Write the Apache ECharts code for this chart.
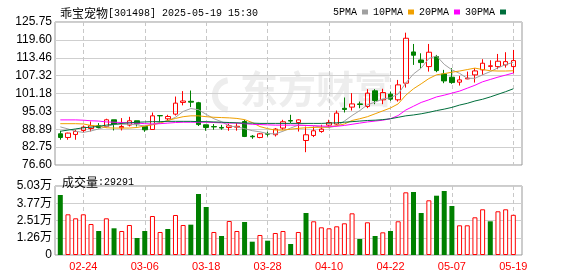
<!DOCTYPE html>
<html><head><meta charset="utf-8">
<script src="https://cdn.jsdelivr.net/npm/echarts@6/dist/echarts.min.js"></script>
<style>html,body{margin:0;padding:0;background:#fff}#c{width:578px;height:276px}</style>
</head><body><div id="c"></div>
<script>
const dates = ['02-19','02-20','02-21','02-24','02-25','02-26','02-27','02-28','03-03','03-04',
'03-05','03-06','03-07','03-10','03-11','03-12','03-13','03-14','03-17','03-18',
'03-19','03-20','03-21','03-24','03-25','03-26','03-27','03-28','03-31','04-01',
'04-02','04-03','04-07','04-08','04-09','04-10','04-11','04-14','04-15','04-16',
'04-17','04-18','04-21','04-22','04-23','04-24','04-25','04-28','04-29','04-30',
'05-06','05-07','05-08','05-09','05-12','05-13','05-14','05-15','05-16','05-19'];
const opens = [87.33,86.06,87.10,88.47,89.15,90.08,89.84,92.14,89.39,90.32,
91.80,89.84,88.81,93.60,92.48,94.09,98.10,98.50,98.00,90.42,
89.80,89.50,89.50,89.60,91.55,86.50,86.06,87.40,87.00,89.28,
91.90,91.20,85.03,86.76,88.13,90.30,90.66,96.10,96.50,97.60,
96.70,102.08,99.00,100.95,99.00,104.72,115.46,112.70,110.42,113.85,
107.90,106.78,105.07,106.20,107.57,109.30,110.50,110.42,111.00,110.42];
const closes = [86.06,87.57,88.13,89.63,90.08,89.50,92.14,90.66,89.84,91.80,
90.76,88.70,93.50,93.50,93.27,97.86,98.60,98.20,90.50,89.50,
89.70,89.30,90.08,89.90,86.40,86.30,87.33,87.20,88.95,91.45,
91.70,92.10,86.99,88.36,88.95,91.20,94.43,95.70,97.60,97.40,
101.30,98.76,101.50,99.24,104.14,120.16,114.33,111.80,115.36,109.05,
105.50,104.93,105.85,106.44,108.94,111.58,110.70,112.27,112.13,112.48];
const lows = [85.28,85.28,85.28,87.78,88.13,89.15,89.50,88.47,88.47,89.84,
89.84,88.00,88.81,91.00,91.55,93.61,97.10,96.50,90.00,88.36,
88.70,88.70,88.36,88.40,86.20,85.60,85.80,86.40,86.40,88.70,
91.00,88.10,81.00,86.20,87.67,89.28,90.42,94.64,95.30,96.10,
96.15,97.50,97.50,98.65,98.40,103.20,111.00,109.90,108.70,108.50,
104.72,104.50,103.90,106.10,104.93,107.57,109.30,109.53,110.07,108.15];
const highs = [88.36,87.70,88.70,90.18,91.55,91.00,92.50,92.14,92.72,93.16,
91.80,89.84,94.64,93.75,93.85,100.13,102.00,102.20,98.30,90.42,
90.66,90.40,90.76,91.00,92.14,86.90,87.60,88.10,89.30,92.14,
93.85,92.30,89.80,89.84,90.42,92.14,95.33,99.80,101.30,98.40,
102.66,102.66,102.80,101.85,105.85,122.08,118.20,115.00,118.20,114.43,
109.30,109.87,107.23,108.70,109.87,112.96,112.60,114.77,115.36,116.15];
const volumes = [43740,29670,26750,29670,22600,17500,26750,19460,17500,21870,
12390,17500,28430,16770,18950,29160,21870,22110,44470,34990,
16770,13850,24790,17500,24060,9700,14580,10430,16040,17500,
8020,16770,30620,24570,20190,19460,20920,23110,30380,11660,
23840,13850,16520,17500,24570,45690,45930,30620,39870,43230,
46660,35720,21650,21650,27480,33310,24570,31860,33310,29291];
const volUp = [0,1,1,1,1,0,1,0,1,1, 0,0,1,1,0,1,1,0,0,0, 1,0,1,1,0,0,1,0,1,1,
0,1,0,1,1,1,1,1,1,0, 1,0,1,0,1,1,0,0,1,0, 0,0,1,1,1,1,0,1,1,1];
const ma5 = [89.7,89.0,88.2,87.8,88.3,89.0,89.8,90.5,90.6,90.6,
90.4,90.0,90.6,91.3,91.8,93.0,95.0,96.0,95.6,94.0,
92.5,91.5,90.0,89.7,89.1,88.4,88.0,87.4,87.3,88.2,
89.3,90.3,90.2,90.1,89.6,89.5,90.0,91.7,93.6,95.3,
97.3,98.2,99.3,99.7,101.0,104.8,107.9,109.9,113.2,114.1,
111.2,109.3,108.1,106.4,106.4,107.6,108.7,110.0,111.1,111.9];
const ma10 = [90.8,90.8,90.8,90.7,90.2,90.0,89.4,89.3,89.3,89.3,
89.5,90.0,90.4,91.0,91.9,92.6,93.2,93.5,93.5,93.2,
93.0,92.9,92.8,92.6,92.2,91.2,89.8,89.1,88.6,88.6,
88.9,89.2,89.4,89.5,89.6,89.7,90.1,90.7,91.9,92.5,
93.2,94.2,95.2,96.2,97.6,100.6,102.8,104.5,106.3,107.6,
108.0,108.5,108.9,109.4,109.9,109.4,109.0,108.9,108.9,109.0];
const ma20 = [92.1,92.1,92.1,92.0,91.8,91.7,91.4,91.3,91.2,91.1,
91.0,90.8,90.7,90.8,91.0,91.2,91.3,91.3,91.3,91.3,
91.2,91.1,91.0,91.0,90.8,90.6,90.5,90.4,90.3,90.3,
90.3,90.3,90.2,90.1,90.0,89.9,89.9,90.2,90.6,91.0,
91.4,91.7,92.0,92.5,93.6,95.5,96.8,98.1,99.0,100.0,
100.6,101.3,102.0,103.0,104.0,105.2,106.0,106.8,107.5,108.2];
const ma30 = [88.2,88.6,89.0,89.4,89.6,89.9,90.3,90.6,90.9,91.1,
91.3,91.4,91.5,91.5,91.6,91.6,91.6,91.6,91.5,91.5,
91.4,91.3,91.2,91.1,91.0,91.0,90.9,90.9,90.9,90.9,
90.9,90.9,90.9,90.9,90.9,91.0,91.1,91.3,91.5,91.7,
91.9,92.0,92.2,92.5,93.0,93.5,93.8,94.2,94.7,95.3,
95.8,96.4,97.2,97.8,98.6,99.2,100.0,100.9,101.8,102.8];
const priceTickLabels = ['76.60','82.75','88.89','95.03','101.18','107.32','113.46','119.60','125.75'];
const volTickValues = [0,12575,25150,37725,50300];
const volTickLabels = ['0','1.26万','2.51万','3.77万','5.03万'];
const dateTickIdx = [3,11,19,27,35,43,51,59];
const maNames = ['5PMA','10PMA','20PMA','30PMA'];
const maColors = ['#a0a0a0','#f0a000','#ff00ff','#006e3c'];

const priceTickValues = priceTickLabels.map(Number);
const idx = dates.map((d,i)=>i);
const candleData = idx.map(i=>[i, opens[i], closes[i], lows[i], highs[i]]);
const volData = idx.map(i=>({
  value:[i, volumes[i]],
  itemStyle: volUp[i] ? {color:'#fff', borderColor:'#ff0000', borderWidth:1} : {color:'#008000'}
}));
const maData = [ma5,ma10,ma20,ma30];

const chart = echarts.init(document.getElementById('c'), null, {renderer:'canvas'});
const xCommon = {
  type:'value', min:-0.69, max:60.13,
  axisLine:{show:false},
  axisTick:{show:false, customValues: dateTickIdx},
  splitLine:{show:true, lineStyle:{color:'#c8c8c8', type:[4,3], width:1}}
};
const latinMono = 'Liberation Mono';
const richTitle = {
  a:{fontFamily:'Noto Sans CJK SC',fontSize:12,fontWeight:'normal',color:'#000',lineHeight:15},
  b:{fontFamily:latinMono,fontSize:10,fontWeight:'normal',color:'#000',lineHeight:15}
};
chart.setOption({
  animation:false,
  backgroundColor:'#fff',
  title:[
    {text:'{a|乖宝宠物}{b|[301498] 2025-05-19 15:30}', left:55, top:1,
     textStyle:{fontWeight:'normal', rich:richTitle}},
    {text:'{a|成交量}{b|:29291}', left:57, top:170,
     textStyle:{fontWeight:'normal', rich:richTitle}}
  ],
  legend:{
    data:maNames, right:67, top:2, align:'right', icon:'rect',
    itemWidth:6, itemHeight:5, itemGap:5,
    textStyle:{fontFamily:latinMono, fontSize:10, color:'#000'}
  },
  graphic:[
    {type:'text', left:240, top:70, z:0, silent:true,
     style:{text:'东方财富', font:'bold 38px "Noto Sans CJK SC"', fill:'#ededed'}},
    {type:'arc', z:0, silent:true, shape:{cx:230, cy:95, r:15, startAngle:Math.PI*0.55, endAngle:Math.PI*1.45},
     style:{stroke:'#ededed', lineWidth:6, fill:null}}
  ],
  grid:[
    {left:55, top:22, width:467, height:143, show:true, borderColor:'#999', borderWidth:1, backgroundColor:'transparent'},
    {left:55, top:186, width:467, height:69, show:true, borderColor:'#999', borderWidth:1, backgroundColor:'transparent'}
  ],
  xAxis:[
    Object.assign({gridIndex:0, axisLabel:{show:false, customValues:dateTickIdx}}, xCommon),
    Object.assign({gridIndex:1, axisLabel:{show:true, customValues:dateTickIdx,
      formatter:(v)=>dates[Math.round(v)], color:'#ff0000', fontSize:11, fontFamily:'Liberation Sans', margin:6}}, xCommon)
  ],
  yAxis:[
    {type:'value', gridIndex:0, min:priceTickValues[0], max:priceTickValues[priceTickValues.length-1],
     axisLine:{show:false}, axisTick:{show:false, customValues:priceTickValues},
     axisLabel:{customValues:priceTickValues, formatter:(v)=>priceTickLabels[priceTickValues.indexOf(v)],
       color:'#000', fontSize:12, fontFamily:'Liberation Sans', margin:3},
     splitLine:{show:true, lineStyle:{color:'#cfcfcf', width:1}}},
    {type:'value', gridIndex:1, min:0, max:volTickValues[volTickValues.length-1],
     axisLine:{show:false}, axisTick:{show:false, customValues:volTickValues},
     axisLabel:{customValues:volTickValues, formatter:(v)=>volTickLabels[volTickValues.indexOf(v)],
       color:'#000', fontSize:12, fontFamily:'Liberation Sans, Noto Sans CJK SC', margin:3},
     splitLine:{show:true, lineStyle:{color:'#cfcfcf', width:1}}}
  ],
  series:[
    {type:'candlestick', xAxisIndex:0, yAxisIndex:0, data:candleData, barWidth:5,
     itemStyle:{color:'transparent', color0:'#008000', borderColor:'#ff0000', borderColor0:'#008000', borderWidth:1}},
    ...maNames.map((n,k)=>({
      type:'line', name:n, xAxisIndex:0, yAxisIndex:0, showSymbol:false, symbol:'none',
      data: idx.map(i=>[i, maData[k][i]]), lineStyle:{color:maColors[k], width:1}, itemStyle:{color:maColors[k]}
    })),
    {type:'bar', xAxisIndex:1, yAxisIndex:1, data:volData, barWidth:5}
  ]
});
</script></body></html>
